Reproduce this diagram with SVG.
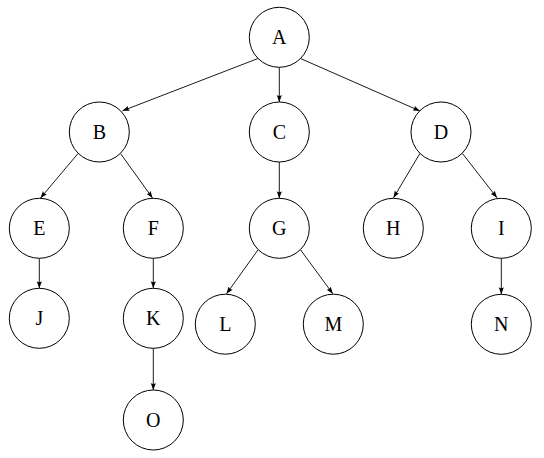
<svg xmlns="http://www.w3.org/2000/svg" width="544" height="458" viewBox="0 0 544 458">
<style>
.n circle{fill:#fff;stroke:#000;stroke-width:1}
.n text{font-family:"Liberation Serif","Times New Roman",serif;font-size:20px;text-anchor:middle;fill:#000}
.e line{stroke:#000;stroke-width:0.9;marker-end:url(#ah)}
</style>
<defs>
<marker id="ah" markerUnits="userSpaceOnUse" markerWidth="8" markerHeight="6" refX="7" refY="3" orient="auto" viewBox="0 0 8 6">
<path d="M0,0.4 Q2,3 0,5.6 L7,3 Z" fill="#000"/>
</marker>
</defs>
<rect width="544" height="458" fill="#fff"/>
<g id="edges" class="e">
<line x1="258" y1="58.5" x2="122.5" y2="110.8"/>
<line x1="279.3" y1="67.3" x2="279.3" y2="102"/>
<line x1="300.5" y1="58.5" x2="420" y2="111"/>
<line x1="78" y1="153.5" x2="40.5" y2="198"/>
<line x1="120.5" y1="153.5" x2="152.5" y2="198"/>
<line x1="279.3" y1="162" x2="279.3" y2="198.3"/>
<line x1="420" y1="153.3" x2="393.5" y2="197.8"/>
<line x1="462.3" y1="153.3" x2="497" y2="197.8"/>
<line x1="258.2" y1="249.6" x2="226.5" y2="293.8"/>
<line x1="300.4" y1="249.6" x2="332.8" y2="293.8"/>
<line x1="39.3" y1="258.3" x2="39.3" y2="288.3"/>
<line x1="153.3" y1="258.3" x2="153.3" y2="288.3"/>
<line x1="153.3" y1="348.3" x2="153.3" y2="390"/>
<line x1="501.3" y1="258.3" x2="501.3" y2="294.3"/>
</g>
<g id="A" class="n"><circle cx="279.3" cy="37.3" r="30"/><text x="279.3" y="43.8">A</text></g>
<g id="B" class="n"><circle cx="99.3" cy="132" r="30"/><text x="99.3" y="138.8">B</text></g>
<g id="C" class="n"><circle cx="279.3" cy="132" r="30"/><text x="279.3" y="138.8">C</text></g>
<g id="D" class="n"><circle cx="441" cy="132" r="30"/><text x="441" y="138.8">D</text></g>
<g id="E" class="n"><circle cx="39.3" cy="228.3" r="30"/><text x="39.3" y="235">E</text></g>
<g id="F" class="n"><circle cx="153.3" cy="228.3" r="30"/><text x="153.3" y="235">F</text></g>
<g id="G" class="n"><circle cx="279.3" cy="228.3" r="30"/><text x="279.3" y="235">G</text></g>
<g id="H" class="n"><circle cx="393.3" cy="228.3" r="30"/><text x="393.3" y="235">H</text></g>
<g id="I" class="n"><circle cx="501.3" cy="228.3" r="30"/><text x="501.3" y="235">I</text></g>
<g id="J" class="n"><circle cx="39.3" cy="318.3" r="30"/><text x="39.3" y="325">J</text></g>
<g id="K" class="n"><circle cx="153.3" cy="318.3" r="30"/><text x="153.3" y="325">K</text></g>
<g id="L" class="n"><circle cx="225.3" cy="324.2" r="30"/><text x="225.3" y="330.9">L</text></g>
<g id="M" class="n"><circle cx="333.3" cy="324.2" r="30"/><text x="333.3" y="330.9">M</text></g>
<g id="N" class="n"><circle cx="501.3" cy="324.3" r="30"/><text x="501.3" y="331">N</text></g>
<g id="O" class="n"><circle cx="153.3" cy="420" r="30"/><text x="153.3" y="426.7">O</text></g>
</svg>
